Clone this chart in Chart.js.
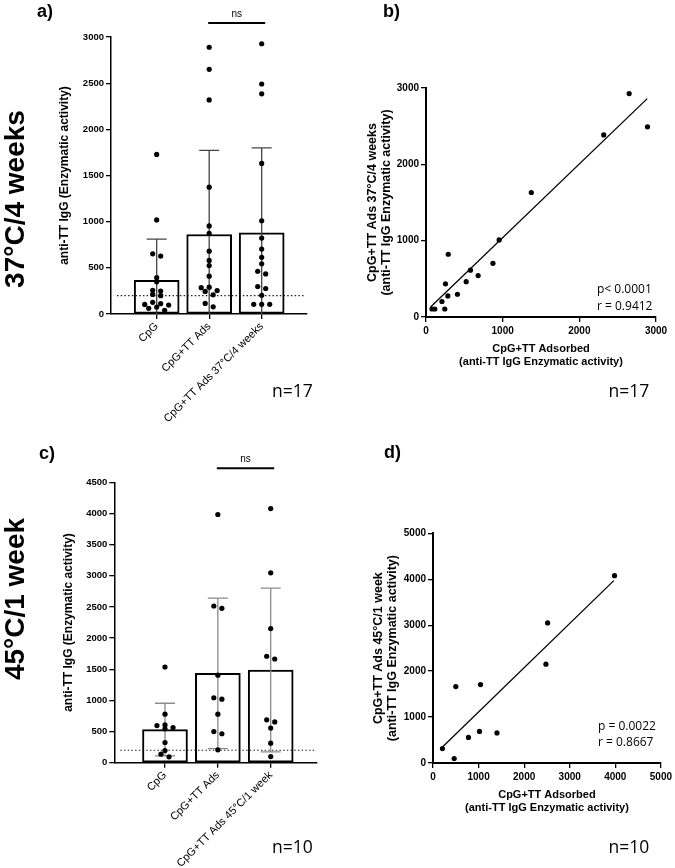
<!DOCTYPE html>
<html>
<head>
<meta charset="utf-8">
<script src="https://cdn.jsdelivr.net/npm/chart.js@4.4.1/dist/chart.umd.min.js"></script>
<style>
  body { margin:0; background:#fff; }
  #fig { position:relative; width:675px; height:868px; overflow:hidden; background:#fff; }
  #fig canvas { position:absolute; }
  .lbl { position:absolute; line-height:1; white-space:nowrap; color:#000; }
  .letter { font:bold 18px Arial, 'Liberation Sans', sans-serif; }
  .side { font:bold 28px Arial, 'Liberation Sans', sans-serif; transform:translate(-50%,-50%) rotate(-90deg); }
  .count { font:17.5px 'Open Sans', sans-serif; }
  .stat { font:12px 'Open Sans', sans-serif; }
</style>
</head>
<body>
<div id="fig">
  <canvas id="chartA" style="left:0;top:0" width="340" height="434"></canvas>
  <canvas id="chartB" style="left:340px;top:0" width="335" height="434"></canvas>
  <canvas id="chartC" style="left:0;top:434px" width="340" height="434"></canvas>
  <canvas id="chartD" style="left:340px;top:434px" width="335" height="434"></canvas>
</div>
<script>
/* ---- data: 37°C / 4 weeks (n=17) ---- */
const groupsA = ['CpG', 'CpG+TT Ads', 'CpG+TT Ads 37°C/4 weeks'];
const cpgA  = [1728, 1019, 652, 627, 393, 349, 256, 248, 212, 198, 126, 112, 104, 97, 76, 61, 40];
// adsA[i] and heatA[i] are the same animal (plotted against each other in b)
const adsA  = [2650, 2889, 2318, 1374, 954, 873, 580, 680, 524, 290, 254, 410, 285, 208, 245, 115, 78];
const heatA = [2927, 2491, 2385, 1631, 1010, 703, 614, 543, 463, 822, 434, 298, 276, 203, 105, 105, 105];
const meanA = [364, 861, 879];
const sdA   = [446, 911, 921];
const ticksA = [0, 500, 1000, 1500, 2000, 2500, 3000];
const ticksB = [0, 1000, 2000, 3000];
const fitBx = [60, 2886];
const fitBy = [130, 2861];
const statsB = ['p< 0.0001', 'r = 0.9412'];

/* ---- data: 45°C / 1 week (n=10) ---- */
const groupsC = ['CpG', 'CpG+TT Ads', 'CpG+TT Ads 45°C/1 week'];
const cpgC  = [1536, 778, 607, 596, 564, 543, 324, 196, 137, 94];
const adsC  = [3983, 2515, 2478, 500, 1042, 1020, 1404, 778, 207, 465];
const heatC = [4078, 3048, 2152, 1664, 1708, 688, 654, 556, 313, 98];
const meanC = [532, 1434, 1488];
const sdC   = [422, 1207, 1313];
const ticksC = [0, 500, 1000, 1500, 2000, 2500, 3000, 3500, 4000, 4500];
const ticksD = [0, 1000, 2000, 3000, 4000, 5000];
const fitDx = [202, 3968];
const fitDy = [341, 3970];
const statsD = ['p = 0.0022', 'r = 0.8667'];

const cutoff = 200;   // dotted detection limit
const FONT = "Arial, 'Liberation Sans', sans-serif";

// spread points that sit at about the same height (GraphPad-style rows)
function swarm(vals, col, yMax) {
  const tol = yMax * 0.0125, step = 0.152;
  const order = vals.map((v, i) => i).sort((a, b) => vals[b] - vals[a]);
  const pts = [];
  let row = [];
  const flush = () => {
    const slots = row.length % 2 ? [0, -1, 1, -2, 2, -3, 3] : [-0.5, 0.5, -1.5, 1.5, -2.5, 2.5];
    row.forEach((i, j) => pts.push({ x: col + slots[j] * step, y: vals[i] }));
    row = [];
  };
  order.forEach(i => {
    if (row.length && vals[row[0]] - vals[i] > tol) flush();
    row.push(i);
  });
  flush();
  return pts;
}

const barDeco = {
  id: 'barDeco',
  afterDatasetDraw(chart, args, o) {
    if (args.index !== 0) return;
    const { ctx, chartArea: a, scales: { x, y } } = chart;
    ctx.save();
    ctx.strokeStyle = '#222';
    ctx.lineWidth = 1.2;
    ctx.setLineDash([1.5, 2.2]);
    const yc = y.getPixelForValue(cutoff);
    ctx.beginPath(); ctx.moveTo(a.left + 6, yc); ctx.lineTo(a.right - 2, yc); ctx.stroke();
    ctx.setLineDash([]);
    ctx.strokeStyle = o.errColor;
    ctx.lineWidth = 1.3;
    o.mean.forEach((m, i) => {
      const px = x.getPixelForValue(i);
      const lo = m - o.sd[i];
      const top = y.getPixelForValue(m + o.sd[i]);
      const bot = y.getPixelForValue(Math.max(lo, 0));
      ctx.beginPath();
      ctx.moveTo(px, top); ctx.lineTo(px, bot);
      ctx.moveTo(px - 10, top); ctx.lineTo(px + 10, top);
      if (lo > 0) { ctx.moveTo(px - 10, bot); ctx.lineTo(px + 10, bot); }
      ctx.stroke();
    });
    ctx.restore();
  },
  afterDraw(chart, args, o) {
    const { ctx, chartArea: a, scales: { x } } = chart;
    const x1 = x.getPixelForValue(1) - 1, x2 = x.getPixelForValue(2) + 3.5, yb = a.top - 14;
    ctx.save();
    ctx.strokeStyle = '#000';
    ctx.lineWidth = 2;
    ctx.beginPath(); ctx.moveTo(x1, yb); ctx.lineTo(x2, yb); ctx.stroke();
    ctx.fillStyle = '#000';
    ctx.font = `10px ${FONT}`;
    ctx.textAlign = 'center';
    ctx.fillText('ns', (x1 + x2) / 2, yb - 6.5);
    ctx.restore();
  }
};

function axisLook(width) {
  return {
    border: { color: '#000', width: width },
    grid: { display: true, drawOnChartArea: false, tickLength: 5, color: '#000', lineWidth: 1.3, offset: false }
  };
}

function barPanel(id, o) {
  const cols = o.groups.map((g, i) => i);
  const series = [o.cpg, o.ads, o.heat];
  new Chart(document.getElementById(id), {
    type: 'scatter',
    data: {
      datasets: [
        { type: 'bar', data: o.mean.map((m, i) => ({ x: i, y: m })), backgroundColor: '#fff',
          borderColor: '#000', borderWidth: 2, borderSkipped: false, barThickness: 45, order: 2 },
        { data: series.flatMap((s, i) => swarm(s, i, o.yMax)), backgroundColor: '#000',
          pointRadius: 2.6, borderWidth: 0, order: 1 }
      ]
    },
    options: {
      responsive: false, animation: false,
      layout: { padding: { left: o.padL, top: o.padT, right: o.padR, bottom: 0 } },
      plugins: { legend: { display: false }, tooltip: { enabled: false },
        barDeco: { mean: o.mean, sd: o.sd, errColor: o.errColor } },
      scales: {
        x: { type: 'linear', min: o.xMin, max: o.xMax, offset: false, ...axisLook(1.5),
          afterBuildTicks: s => { s.ticks = cols.map(v => ({ value: v })); },
          afterFit: s => { s.height = o.xH; },
          ticks: { autoSkip: false, minRotation: 45, maxRotation: 45, padding: 1, color: '#000',
            font: { family: FONT, size: 11 }, callback: v => o.groups[v] } },
        y: { type: 'linear', min: 0, max: o.yMax, ...axisLook(1.5),
          afterBuildTicks: s => { s.ticks = o.ticks.map(v => ({ value: v })); },
          afterFit: s => { s.width = o.yW; },
          ticks: { padding: 2, color: '#000', font: { family: FONT, size: 9.5, weight: 'bold' },
            callback: v => String(v) },
          title: { display: true, text: 'anti-TT IgG (Enzymatic activity)', padding: 0, color: '#000',
            font: { family: FONT, size: 12, weight: 'bold' } } }
      }
    },
    plugins: [barDeco]
  });
}

function corrPanel(id, o) {
  new Chart(document.getElementById(id), {
    type: 'scatter',
    data: {
      datasets: [
        { data: o.xs.map((v, i) => ({ x: v, y: o.ys[i] })), backgroundColor: '#000', pointRadius: 2.6, borderWidth: 0 },
        { type: 'line', data: o.fitX.map((v, i) => ({ x: v, y: o.fitY[i] })), borderColor: '#000',
          borderWidth: 1.3, pointRadius: 0, fill: false }
      ]
    },
    options: {
      responsive: false, animation: false,
      layout: { padding: { left: o.padL, top: o.padT, right: o.padR, bottom: o.padB } },
      plugins: { legend: { display: false }, tooltip: { enabled: false } },
      scales: {
        x: { min: 0, max: o.max, ...axisLook(2),
          afterBuildTicks: s => { s.ticks = o.ticks.map(v => ({ value: v })); },
          afterFit: s => { s.height = o.xH; },
          ticks: { padding: 3, color: '#000', maxRotation: 0, font: { family: FONT, size: 10, weight: 'bold' },
            callback: v => String(v) },
          title: { display: true, text: ['CpG+TT Adsorbed', '(anti-TT IgG Enzymatic activity)'], padding: 0,
            color: '#000', font: { family: FONT, size: 11, weight: 'bold' } } },
        y: { min: 0, max: o.max, ...axisLook(2),
          afterBuildTicks: s => { s.ticks = o.ticks.map(v => ({ value: v })); },
          afterFit: s => { s.width = o.yW; },
          ticks: { padding: 2, color: '#000', font: { family: FONT, size: 10, weight: 'bold' },
            callback: v => String(v) },
          title: { display: true, text: [o.yTitle, '(anti-TT IgG Enzymatic activity)'], padding: 0,
            color: '#000', font: { family: FONT, size: 12.5, weight: 'bold', lineHeight: 1.1 } } }
      }
    }
  });
}

barPanel('chartA', { groups: groupsA, cpg: cpgA, ads: adsA, heat: heatA, mean: meanA, sd: sdA,
  ticks: ticksA, yMax: 3000, xMin: -0.87, xMax: 2.863, padL: 57.8, yW: 53.2, padT: 37, padR: 33, xH: 120,
  errColor: '#444' });
corrPanel('chartB', { xs: adsA, ys: heatA, fitX: fitBx, fitY: fitBy, ticks: ticksB, max: 3000,
  yTitle: 'CpG+TT Ads 37°C/4 weeks', padL: 25.7, yW: 60.3, padT: 88, padR: 19, padB: 65.4, xH: 51.6 });
barPanel('chartC', { groups: groupsC, cpg: cpgC, ads: adsC, heat: heatC, mean: meanC, sd: sdC,
  ticks: ticksC, yMax: 4500, xMin: -0.959, xMax: 2.87, padL: 61.8, yW: 52.5, padT: 48.3, padR: 23.3, xH: 105.3,
  errColor: '#8a8a8a' });
corrPanel('chartD', { xs: adsC, ys: heatC, fitX: fitDx, fitY: fitDy, ticks: ticksD, max: 5000,
  yTitle: 'CpG+TT Ads 45°C/1 week', padL: 32.1, yW: 60.9, padT: 99.3, padR: 11, padB: 53.4, xH: 51.6 });

/* ---- text around the panels ---- */
const fig = document.getElementById('fig');
function label(text, x, y, cls) {
  const d = document.createElement('div');
  d.className = 'lbl ' + cls;
  d.textContent = text;
  d.style.left = x + 'px';
  d.style.top = y + 'px';
  fig.appendChild(d);
}
label('a)', 37, 0.8, 'letter');
label('b)', 383, 0.8, 'letter');
label('c)', 39, 442.8, 'letter');
label('d)', 384, 442.3, 'letter');
label('37°C/4 weeks', 15, 199, 'side');
label('45°C/1 week', 15, 599, 'side');
label('n=' + cpgA.length, 272, 377.7, 'count');
label('n=' + adsA.length, 608.5, 377.7, 'count');
label('n=' + cpgC.length, 272, 833.7, 'count');
label('n=' + adsC.length, 608.5, 833.7, 'count');
label(statsB[0], 597, 280.3, 'stat');
label(statsB[1], 597, 296.6, 'stat');
label(statsD[0], 598, 716.6, 'stat');
label(statsD[1], 598, 732.6, 'stat');
</script>
</body>
</html>
